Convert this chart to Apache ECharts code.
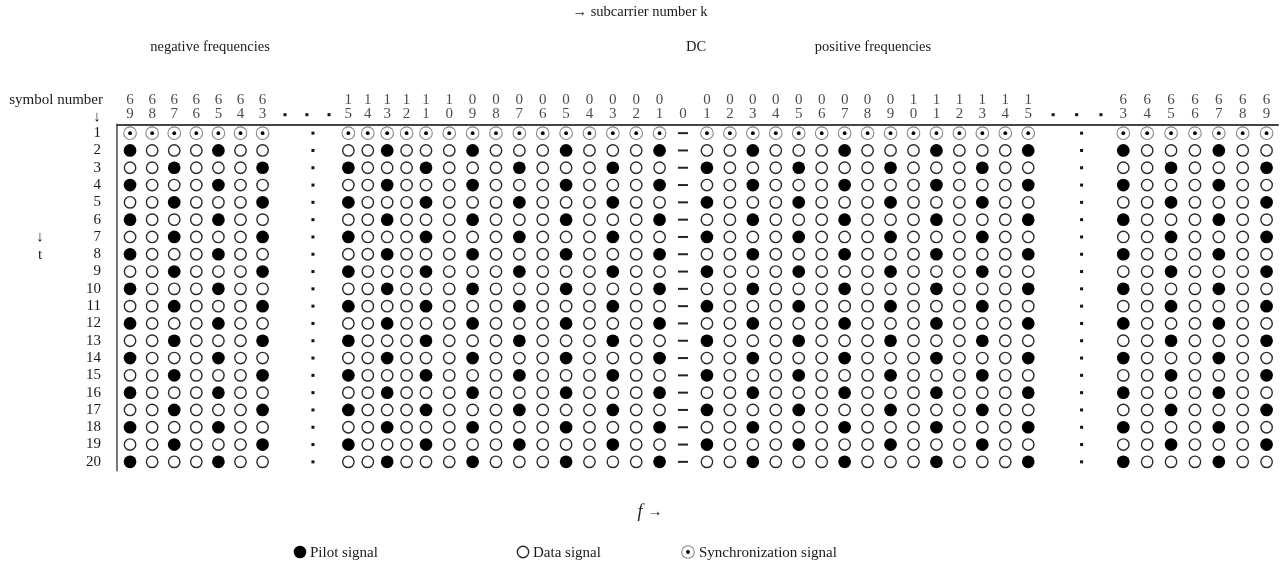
<!DOCTYPE html>
<html>
<head>
<meta charset="utf-8">
<script src="https://cdn.jsdelivr.net/npm/echarts@6/dist/echarts.min.js"></script>
<style>html,body{margin:0;padding:0;background:#fff}#c{width:1285px;height:566px}</style>
</head>
<body>
<div id="c"></div>
<script>
// ---------------- DATA ----------------
// subcarrier numbers k shown as columns (left to right)
const subcarriers = [
  -69, -68, -67, -66, -65, -64, -63,
  -15, -14, -13, -12, -11, -10, -9, -8, -7, -6, -5, -4, -3, -2, -1,
  0,
  1, 2, 3, 4, 5, 6, 7, 8, 9, 10, 11, 12, 13, 14, 15,
  63, 64, 65, 66, 67, 68, 69
];
// symbol numbers (rows)
const symbolNumbers = ['1','2','3','4','5','6','7','8','9','10','11','12','13','14','15','16','17','18','19','20'];
// cell content per row, one char per subcarrier column (spaces only separate blocks)
// S = synchronization signal, P = pilot signal, D = data signal, - = DC (not used)
const rowPatterns = [
  'SSSSSSS SSSSSSSSSSSSSSS - SSSSSSSSSSSSSSS SSSSSSS', // 1
  'PDDDPDD DDPDDDPDDDPDDDP - DDPDDDPDDDPDDDP PDDDPDD', // 2
  'DDPDDDP PDDDPDDDPDDDPDD - PDDDPDDDPDDDPDD DDPDDDP', // 3
  'PDDDPDD DDPDDDPDDDPDDDP - DDPDDDPDDDPDDDP PDDDPDD', // 4
  'DDPDDDP PDDDPDDDPDDDPDD - PDDDPDDDPDDDPDD DDPDDDP', // 5
  'PDDDPDD DDPDDDPDDDPDDDP - DDPDDDPDDDPDDDP PDDDPDD', // 6
  'DDPDDDP PDDDPDDDPDDDPDD - PDDDPDDDPDDDPDD DDPDDDP', // 7
  'PDDDPDD DDPDDDPDDDPDDDP - DDPDDDPDDDPDDDP PDDDPDD', // 8
  'DDPDDDP PDDDPDDDPDDDPDD - PDDDPDDDPDDDPDD DDPDDDP', // 9
  'PDDDPDD DDPDDDPDDDPDDDP - DDPDDDPDDDPDDDP PDDDPDD', // 10
  'DDPDDDP PDDDPDDDPDDDPDD - PDDDPDDDPDDDPDD DDPDDDP', // 11
  'PDDDPDD DDPDDDPDDDPDDDP - DDPDDDPDDDPDDDP PDDDPDD', // 12
  'DDPDDDP PDDDPDDDPDDDPDD - PDDDPDDDPDDDPDD DDPDDDP', // 13
  'PDDDPDD DDPDDDPDDDPDDDP - DDPDDDPDDDPDDDP PDDDPDD', // 14
  'DDPDDDP PDDDPDDDPDDDPDD - PDDDPDDDPDDDPDD DDPDDDP', // 15
  'PDDDPDD DDPDDDPDDDPDDDP - DDPDDDPDDDPDDDP PDDDPDD', // 16
  'DDPDDDP PDDDPDDDPDDDPDD - PDDDPDDDPDDDPDD DDPDDDP', // 17
  'PDDDPDD DDPDDDPDDDPDDDP - DDPDDDPDDDPDDDP PDDDPDD', // 18
  'DDPDDDP PDDDPDDDPDDDPDD - PDDDPDDDPDDDPDD DDPDDDP', // 19
  'PDDDPDD DDPDDDPDDDPDDDP - DDPDDDPDDDPDDDP PDDDPDD'  // 20
];
const legendNames = ['Pilot signal', 'Data signal', 'Synchronization signal'];

// ---------------- LAYOUT ----------------
// column slot positions along the x axis (one slot ~ one subcarrier spacing)
const COL_LAYOUT = [
  {from: -69, to: -63, start: 0.56,  step: 0.948},
  {from: -15, to: -11, start: 9.93,  step: 0.833},
  {from: -10, to: 0,   start: 14.26, step: 1.003},
  {from: 1,   to: 15,  start: 25.32, step: 0.985},
  {from: 63,  to: 69,  start: 43.19, step: 1.025}
];
function slotOf(k) {
  for (const b of COL_LAYOUT) if (k >= b.from && k <= b.to) return b.start + (k - b.from) * b.step;
  return null;
}
const X_MAX = 49.83;
const GAP_HEADER_SLOTS = [7.21, 8.15, 9.1, 40.18, 41.19, 42.23];
const GAP_ROW_SLOTS = [8.41, 41.40];

const FONT = '"Liberation Serif", "Times New Roman", serif';
const INK = '#1a1a1a';

// ---------------- BUILD SERIES DATA ----------------
const pilot = [], dataSig = [], sync = [], dc = [], rowDots = [];
rowPatterns.forEach((pat, r) => {
  const cells = pat.replace(/ /g, '');
  cells.split('').forEach((ch, c) => {
    const pt = [slotOf(subcarriers[c]), r];
    if (ch === 'P') pilot.push(pt);
    else if (ch === 'D') dataSig.push(pt);
    else if (ch === 'S') sync.push(pt);
    else if (ch === '-') dc.push(pt);
  });
  GAP_ROW_SLOTS.forEach(s => rowDots.push([s, r]));
});
const headerLabels = [];
subcarriers.forEach(k => {
  const a = Math.abs(k);
  const tens = k === 0 ? '' : String(Math.floor(a / 10));
  const units = String(a % 10);
  headerLabels.push({value: [slotOf(k), 0.5], txt: tens});
  headerLabels.push({value: [slotOf(k), 1.5], txt: units});
});
const headerDots = GAP_HEADER_SLOTS.map(s => [s, 1.55]);

const chart = echarts.init(document.getElementById('c'), null, {renderer: 'canvas'});

const txt = (text, x, y, align, size, extra) => ({
  type: 'text', x: x, y: y, silent: true,
  style: Object.assign({text: text, textAlign: align, textVerticalAlign: 'middle',
    font: (size || 15) + 'px ' + FONT, fill: INK}, extra || {})
});

chart.setOption({
  animation: false,
  backgroundColor: '#fff',
  grid: [
    {left: 117, right: 7, top: 124.5, bottom: 95.5},
    {left: 117, right: 7, top: 93, height: 28}
  ],
  xAxis: [
    {gridIndex: 0, type: 'value', min: 0, max: X_MAX, position: 'top',
     axisLine: {show: true, lineStyle: {color: '#444', width: 2}},
     axisTick: {show: false}, axisLabel: {show: false}, splitLine: {show: false}},
    {gridIndex: 1, type: 'value', min: 0, max: X_MAX, show: false}
  ],
  yAxis: [
    {gridIndex: 0, type: 'category', data: symbolNumbers, inverse: true,
     axisLine: {show: true, lineStyle: {color: '#777', width: 2}},
     axisTick: {show: false}, splitLine: {show: false},
     axisLabel: {interval: 0, margin: 16, color: INK, fontSize: 15, fontFamily: FONT}},
    {gridIndex: 1, type: 'value', min: 0, max: 2, inverse: true, show: false}
  ],
  series: [
    {name: 'Pilot signal', type: 'scatter', data: pilot, symbol: 'circle', symbolSize: 12.7,
     itemStyle: {color: '#000', opacity: 1}, silent: true},
    {name: 'Data signal', type: 'scatter', data: dataSig, symbol: 'circle', symbolSize: 11.4,
     itemStyle: {color: '#fff', borderColor: '#2a2a2a', borderWidth: 1.4, opacity: 1}, silent: true},
    {name: 'Synchronization signal', type: 'scatter', data: sync, symbol: 'circle', symbolSize: 12.6,
     itemStyle: {color: '#fff', borderColor: '#888', borderWidth: 1.1, opacity: 1}, silent: true},
    {name: 'sync-dot', type: 'scatter', data: sync, symbol: 'circle', symbolSize: 3.8,
     itemStyle: {color: '#000', opacity: 1}, silent: true, z: 3},
    {name: 'DC', type: 'scatter', data: dc, symbol: 'rect', symbolSize: [10, 2],
     itemStyle: {color: '#222', opacity: 1}, silent: true},
    {name: 'gap', type: 'scatter', data: rowDots, symbol: 'rect', symbolSize: 3,
     itemStyle: {color: '#111', opacity: 1}, silent: true},
    {name: 'header', type: 'scatter', xAxisIndex: 1, yAxisIndex: 1, data: headerLabels,
     symbol: 'circle', symbolSize: 1, itemStyle: {color: 'rgba(0,0,0,0)'}, silent: true,
     label: {show: true, position: 'inside', formatter: p => p.data.txt,
             color: INK, fontSize: 15, fontFamily: FONT}},
    {name: 'header-gap', type: 'scatter', xAxisIndex: 1, yAxisIndex: 1, data: headerDots,
     symbol: 'rect', symbolSize: 3, itemStyle: {color: '#111', opacity: 1}, silent: true}
  ],
  graphic: [
    txt('\u2192 subcarrier number k', 640, 12, 'center', 14.5),
    txt('negative frequencies', 210, 47, 'center', 14.5),
    txt('DC', 696, 47, 'center', 14.5),
    txt('positive frequencies', 873, 47, 'center', 14.5),
    txt('symbol number', 103, 100, 'right', 15),
    txt('\u2193', 97, 117, 'center', 15),
    txt('\u2193', 40, 237, 'center', 15),
    txt('t', 40, 255, 'center', 15),
    txt('f', 640, 512, 'center', 18, {font: 'italic 18px ' + FONT}),
    txt('\u2192', 655, 512, 'center', 15),
    // legend
    {type: 'circle', shape: {cx: 300, cy: 552, r: 6.3}, style: {fill: '#000'}, silent: true},
    txt(legendNames[0], 310, 553, 'left', 15),
    {type: 'circle', shape: {cx: 523, cy: 552, r: 5.7}, style: {fill: '#fff', stroke: '#2a2a2a', lineWidth: 1.4}, silent: true},
    txt(legendNames[1], 533, 553, 'left', 15),
    {type: 'circle', shape: {cx: 688, cy: 552, r: 6.3}, style: {fill: '#fff', stroke: '#888', lineWidth: 1.1}, silent: true},
    {type: 'circle', shape: {cx: 688, cy: 552, r: 1.9}, style: {fill: '#000'}, silent: true},
    txt(legendNames[2], 699, 553, 'left', 15)
  ]
});
</script>
</body>
</html>
